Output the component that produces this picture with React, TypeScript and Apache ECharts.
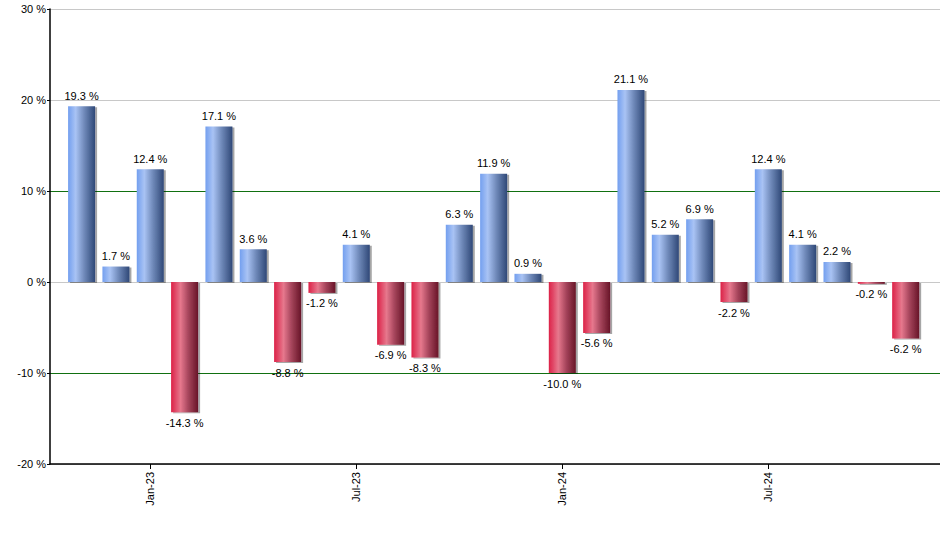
import React, { useEffect, useRef } from "react";
import * as echarts from "echarts";

const categories = [
  "Nov-22", "Dec-22", "Jan-23", "Feb-23", "Mar-23", "Apr-23", "May-23", "Jun-23",
  "Jul-23", "Aug-23", "Sep-23", "Oct-23", "Nov-23", "Dec-23", "Jan-24", "Feb-24",
  "Mar-24", "Apr-24", "May-24", "Jun-24", "Jul-24", "Aug-24", "Sep-24", "Oct-24", "Nov-24",
];
const values = [
  19.3, 1.7, 12.4, -14.3, 17.1, 3.6, -8.8, -1.2, 4.1, -6.9, -8.3, 6.3, 11.9,
  0.9, -10.0, -5.6, 21.1, 5.2, 6.9, -2.2, 12.4, 4.1, 2.2, -0.2, -6.2,
];
const labelledMonths = ["Jan-23", "Jul-23", "Jan-24", "Jul-24"];
const yTicks = [-20, -10, 0, 10, 20, 30];

export default function App() {
  const ref = useRef<HTMLDivElement>(null);
  useEffect(() => {
    document.body.style.margin = "0";
    if (!ref.current) return;
    const chart = echarts.init(ref.current, null, { renderer: "svg" });
    const blue = new echarts.graphic.LinearGradient(0, 0, 1, 0, [
      { offset: 0, color: "#739fef" },
      { offset: 0.28, color: "#a9c3f4" },
      { offset: 0.6, color: "#6f89b9" },
      { offset: 1, color: "#2f4877" },
    ]);
    const red = new echarts.graphic.LinearGradient(0, 0, 1, 0, [
      { offset: 0, color: "#dc2147" },
      { offset: 0.35, color: "#e6788d" },
      { offset: 0.65, color: "#a4435a" },
      { offset: 1, color: "#681628" },
    ]);
    const tickIdx = labelledMonths.map((m) => categories.indexOf(m));
    const font = "'Liberation Sans', Arial, sans-serif";
    const data = values.map((v, i) => ({
      value: [i, v],
      itemStyle: { color: v >= 0 ? blue : red },
      label: { position: v >= 0 ? "top" : "bottom" },
    }));
    chart.setOption({
      animation: false,
      backgroundColor: "#fff",
      grid: { left: 50, right: 0, top: 9, bottom: 86, containLabel: false },
      xAxis: {
        type: "value",
        min: -0.92,
        max: 25,
        axisLine: { show: true, onZero: false, lineStyle: { color: "#000", width: 1.5 } },
        axisTick: { show: true, length: 5, customValues: tickIdx, lineStyle: { color: "#000" } },
        axisLabel: {
          customValues: tickIdx,
          rotate: 90,
          margin: 8,
          color: "#000",
          fontSize: 11,
          fontFamily: font,
          formatter: (v: number) => categories[Math.round(v)],
        },
        splitLine: { show: false },
      },
      yAxis: {
        type: "value",
        min: yTicks[0],
        max: yTicks[yTicks.length - 1],
        interval: 10,
        axisLine: { show: true, onZero: false, lineStyle: { color: "#000", width: 1.5 } },
        axisTick: { show: true, length: 3, lineStyle: { color: "#000" } },
        axisLabel: {
          margin: 4,
          color: "#000",
          fontSize: 11,
          fontFamily: font,
          formatter: (v: number) => `${v} %`,
        },
        splitLine: {
          show: true,
          lineStyle: {
            color: ["#c8c8c8", "#117011", "#c8c8c8", "#117011", "#c8c8c8", "#c8c8c8"],
            width: 1,
          },
        },
      },
      series: [
        {
          type: "bar",
          barWidth: 27,
          data,
          itemStyle: {
            shadowColor: "rgba(0,0,0,0.35)",
            shadowOffsetX: 2,
            shadowOffsetY: 1,
            shadowBlur: 0,
          },
          label: {
            show: true,
            distance: 5,
            color: "#000",
            fontSize: 11,
            fontFamily: font,
            formatter: (p: any) => `${p.value[1].toFixed(1)} %`,
          },
        },
      ],
    });
    return () => chart.dispose();
  }, []);
  return <div ref={ref} style={{ width: 940, height: 550 }} />;
}
